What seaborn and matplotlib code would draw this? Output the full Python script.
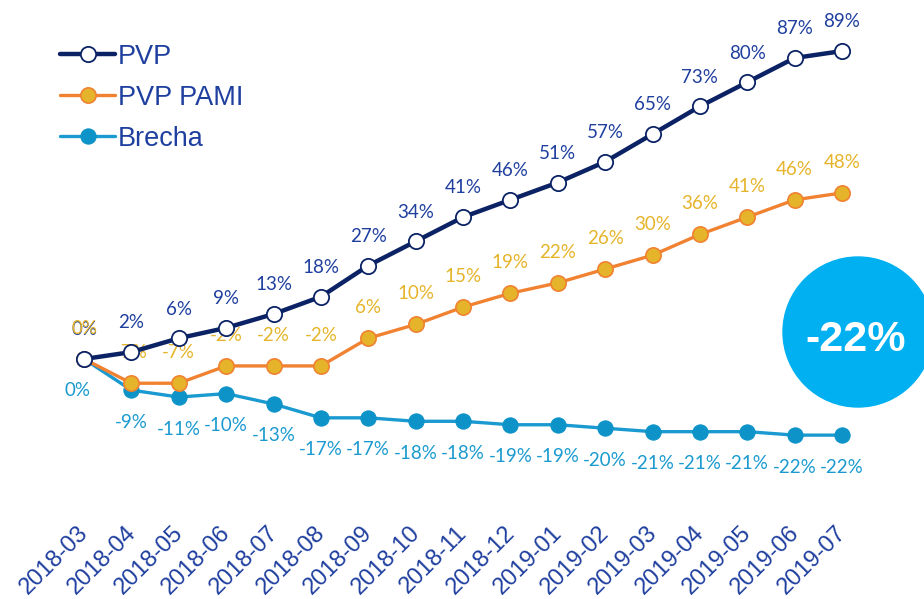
import numpy as np
import pandas as pd
import seaborn as sns
import matplotlib.pyplot as plt
from matplotlib.patches import Ellipse
from matplotlib.transforms import ScaledTranslation

months = ["2018-03", "2018-04", "2018-05", "2018-06", "2018-07", "2018-08",
          "2018-09", "2018-10", "2018-11", "2018-12", "2019-01", "2019-02",
          "2019-03", "2019-04", "2019-05", "2019-06", "2019-07"]
pvp = [0, 2, 6, 9, 13, 18, 27, 34, 41, 46, 51, 57, 65, 73, 80, 87, 89]
pvp_pami = [0, -7, -7, -2, -2, -2, 6, 10, 15, 19, 22, 26, 30, 36, 41, 46, 48]
brecha = [0, -9, -11, -10, -13, -17, -17, -18, -18, -19, -19, -20, -21, -21,
          -21, -22, -22]
brecha_final = "-22%"

navy = "#0b2265"
navy_txt = "#1f3f9f"
orange = "#f08232"
gold = "#e6b42a"
cyan = "#1a9ad0"
cyan_dot = "#0d93c8"
bubble = "#00b0f0"

sns.set_style("white")
plt.rcParams["font.family"] = ["Liberation Sans", "DejaVu Sans"]

x = np.arange(len(months))
df = pd.DataFrame({"x": x, "PVP": pvp, "PVP PAMI": pvp_pami, "Brecha": brecha})

fig = plt.figure(figsize=(9.24, 5.99), dpi=100)
ax = fig.add_axes([0.0653, 0.1696, 0.8716, 0.8087])

sns.lineplot(data=df, x="x", y="PVP", ax=ax, color=navy, lw=3.2,
             marker="o", markersize=11, markerfacecolor="white",
             markeredgecolor=navy, markeredgewidth=1.3, label="PVP", zorder=5)
sns.lineplot(data=df, x="x", y="PVP PAMI", ax=ax, color=orange, lw=2.4,
             marker="o", markersize=11, markerfacecolor=gold,
             markeredgecolor=orange, markeredgewidth=1.2, label="PVP PAMI",
             zorder=4)
sns.lineplot(data=df, x="x", y="Brecha", ax=ax, color=cyan, lw=2.4,
             marker="o", markersize=11, markerfacecolor=cyan_dot,
             markeredgecolor=cyan_dot, label="Brecha", zorder=3)

# data labels sit under the lines, as in the original
lab_font = dict(family="Lato", fontsize=13.5, ha="center", va="center", zorder=1)
for i, v in enumerate(pvp):
    ax.annotate(f"{v}%", (x[i], v), xytext=(0, 21), textcoords="offset points",
                color=navy_txt, **lab_font)
for i, v in enumerate(pvp_pami):
    ax.annotate(f"{v}%", (x[i], v), xytext=(0, 22), textcoords="offset points",
                color=gold, **lab_font)
for i, v in enumerate(brecha):
    dx = -5 if i == 0 else 0
    ax.annotate(f"{v}%", (x[i], v), xytext=(dx, -23), textcoords="offset points",
                color=cyan, **lab_font)

ax.set_xlim(-0.5, len(months) - 0.5)
ax.set_ylim(-40, 100)
ax.set_xticks(x)
ax.set_xticklabels(months, rotation=45, ha="right", va="center",
                   rotation_mode="anchor", fontsize=17, color=navy_txt)
ax.tick_params(axis="x", length=0, pad=23)
shift = ScaledTranslation(0.01, 0, fig.dpi_scale_trans)
for t in ax.get_xticklabels():
    t.set_transform(t.get_transform() + shift)
ax.set_yticks([])
ax.set_xlabel("")
ax.set_ylabel("")
sns.despine(ax=ax, left=True, bottom=True)

leg = ax.legend(loc="upper left", bbox_to_anchor=(0.053, 0.945),
                bbox_transform=fig.transFigure, frameon=False, fontsize=19.5,
                handlelength=2.05, handletextpad=0.1, labelspacing=0.55,
                borderaxespad=0)
for t in leg.get_texts():
    t.set_color(navy_txt)

circ = Ellipse((858 / 924, 1 - 332 / 599), 150 / 924, 150 / 599,
               transform=fig.transFigure, color=bubble, zorder=10)
fig.add_artist(circ)
fig.text(856 / 924, 1 - 340 / 599, brecha_final, color="white", fontsize=31,
         fontweight="bold", ha="center", va="center", zorder=11)

fig.savefig("out.png", dpi=100)
